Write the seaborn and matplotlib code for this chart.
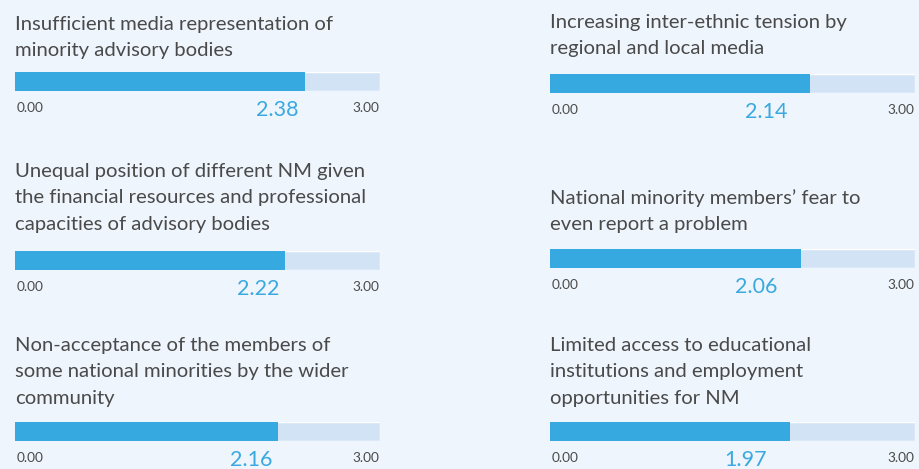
import matplotlib
matplotlib.use("Agg")
import matplotlib.pyplot as plt
import matplotlib.transforms as mtransforms
import seaborn as sns
import pandas as pd

# Survey items: mean score on a 0-3 scale
titles = [
    "Insufficient media representation of\nminority advisory bodies",
    "Increasing inter-ethnic tension by\nregional and local media",
    "Unequal position of different NM given\nthe financial resources and professional\ncapacities of advisory bodies",
    "National minority members\u2019 fear to\neven report a problem",
    "Non-acceptance of the members of\nsome national minorities by the wider\ncommunity",
    "Limited access to educational\ninstitutions and employment\nopportunities for NM",
]
scores = [2.38, 2.14, 2.22, 2.06, 2.16, 1.97]
scale_min = 0.00
scale_max = 3.00

BG = "#eef5fd"
FILL = "#36a9e0"
TRACK = "#d2e3f6"
TEXT = "#4a4a4a"
VALUE = "#3aa9df"

sns.set_theme(style="white")
plt.rcParams["font.family"] = ["Lato", "DejaVu Sans"]

W, H = 920, 469
fig = plt.figure(figsize=(W / 100, H / 100), dpi=100, facecolor=BG)

# panel layout in pixels: (track left, track right, bar top, bar bottom, first title baseline)
col_x = [(15, 380), (550, 915)]
row_geo = [
    [(72, 91, 30), (74, 93, 28)],
    [(251, 270, 177), (249, 268, 204)],
    [(422, 441, 351), (422, 441, 351)],
]
value_shift = [-27, -44]
line_gap = 26.3


def fx(px):
    return px / W


def fy(py):
    return 1 - py / H


for i, (title, score) in enumerate(zip(titles, scores)):
    r, c = divmod(i, 2)
    x0, x1 = col_x[c]
    top, bot, base = row_geo[r][c]
    ax = fig.add_axes([fx(x0), fy(bot), fx(x1) - fx(x0), (bot - top) / H])
    df = pd.DataFrame({"item": ["track", "score"], "value": [scale_max, score]})
    sns.barplot(data=df.iloc[[0]], x="value", y="item", orient="h", color=TRACK,
                width=1.0, saturation=1, ax=ax)
    ax.barh([0], [score], height=1.0, color=FILL, left=scale_min, linewidth=0)
    ax.set_xlim(scale_min, scale_max)
    ax.set_ylim(0.5, -0.5)
    ax.axis("off")

    # title lines
    for k, line in enumerate(title.split("\n")):
        fig.text(fx(x0), fy(base + k * line_gap), line, fontsize=14.6,
                 color=TEXT, ha="left", va="baseline")

    # scale end labels
    fig.text(fx(x0 + 2), fy(bot + 21), f"{scale_min:.2f}", fontsize=9.8,
             color=TEXT, ha="left", va="baseline")
    fig.text(fx(x1 - 1), fy(bot + 21), f"{scale_max:.2f}", fontsize=9.8,
             color=TEXT, ha="right", va="baseline")

    # value label near the end of the filled bar
    trans = mtransforms.offset_copy(ax.transData, fig=fig, x=value_shift[c], y=0,
                                    units="dots")
    xv, _ = trans.transform((score, 0))
    fig.text(xv / W, fy(bot + 25), f"{score:.2f}", fontsize=15.5,
             color=VALUE, ha="center", va="baseline")

fig.savefig("out.png", dpi=100, facecolor=BG)
